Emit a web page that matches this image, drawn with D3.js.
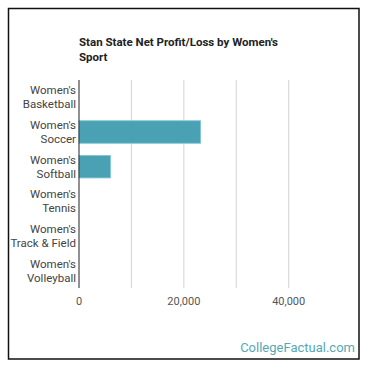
<!DOCTYPE html>
<html>
<head>
<meta charset="utf-8">
<script src="https://cdn.jsdelivr.net/npm/d3@7"></script>
<style>
  body { margin: 0; background: #fff; }
  svg text { font-family: Roboto, "Open Sans", sans-serif; }
</style>
</head>
<body>
<div id="app"></div>
<script>
const sports = [
  ["Women's", 'Basketball'],
  ["Women's", 'Soccer'],
  ["Women's", 'Softball'],
  ["Women's", 'Tennis'],
  ["Women's", 'Track & Field'],
  ["Women's", 'Volleyball']
];
const profits = [0, 23200, 6000, 0, 0, 0];
const tickValues = [0, 20000, 40000];
const gridValues = [0, 10000, 20000, 30000, 40000];

const width = 370;
const height = 370;
const margin = { top: 80, left: 79, bottom: 82 };
const plotRight = 288.7;
const barColor = '#4ba1b4';

const svg = d3.select('#app').append('svg')
  .attr('width', width)
  .attr('height', height);

svg.append('rect')
  .attr('x', 8.5).attr('y', 8.5)
  .attr('width', 350.5).attr('height', 350.5)
  .attr('fill', '#fff')
  .attr('stroke', '#111')
  .attr('stroke-width', 1.5);

const x = d3.scaleLinear()
  .domain([0, 40000])
  .range([margin.left, plotRight]);

const y = d3.scaleBand()
  .domain(d3.range(sports.length))
  .range([margin.top, height - margin.bottom])
  .paddingInner(0.35)
  .paddingOuter(0.175);

// grid
svg.append('g')
  .selectAll('line')
  .data(gridValues.slice(1))
  .enter().append('line')
  .attr('x1', d => x(d)).attr('x2', d => x(d))
  .attr('y1', margin.top).attr('y2', height - margin.bottom)
  .attr('stroke', '#d4d4d4')
  .attr('stroke-width', 1);

// bars
svg.append('g')
  .selectAll('rect')
  .data(profits)
  .enter().append('rect')
  .attr('x', x(0))
  .attr('y', (_, i) => y(i))
  .attr('width', d => x(d) - x(0))
  .attr('height', y.bandwidth())
  .attr('fill', barColor)
  .attr('stroke', '#7cc7d6')
  .attr('stroke-width', d => d > 0 ? 0.8 : 0);

// baseline
svg.append('line')
  .attr('x1', x(0)).attr('x2', x(0))
  .attr('y1', margin.top).attr('y2', height - margin.bottom)
  .attr('stroke', '#222')
  .attr('stroke-width', 1);

// category labels
const labels = svg.append('g')
  .selectAll('text')
  .data(sports)
  .enter().append('text')
  .attr('text-anchor', 'end')
  .attr('fill', '#444')
  .style('font-size', '11.5px');

labels.each(function (d, i) {
  const cy = y(i) + y.bandwidth() / 2;
  d3.select(this).selectAll('tspan')
    .data(d)
    .enter().append('tspan')
    .attr('x', 76)
    .attr('y', (_, j) => cy - 3 + j * 14)
    .text(t => t);
});

// x tick labels
svg.append('g')
  .selectAll('text')
  .data(tickValues)
  .enter().append('text')
  .attr('x', d => x(d))
  .attr('y', 305)
  .attr('text-anchor', 'middle')
  .attr('fill', '#555')
  .style('font-size', '11px')
  .text(d3.format(','));

// title
svg.append('text')
  .attr('x', 79)
  .attr('y', 46)
  .attr('fill', '#222')
  .style('font-size', '11.5px')
  .style('font-weight', 'bold')
  .selectAll('tspan')
  .data(["Stan State Net Profit/Loss by Women's", 'Sport'])
  .enter().append('tspan')
  .attr('x', 79)
  .attr('dy', (_, i) => i ? 15 : 0)
  .text(d => d);

// source
svg.append('text')
  .attr('x', 355)
  .attr('y', 352)
  .attr('text-anchor', 'end')
  .attr('fill', '#56a7b7')
  .style('font-size', '13px')
  .text('CollegeFactual.com');
</script>
</body>
</html>
